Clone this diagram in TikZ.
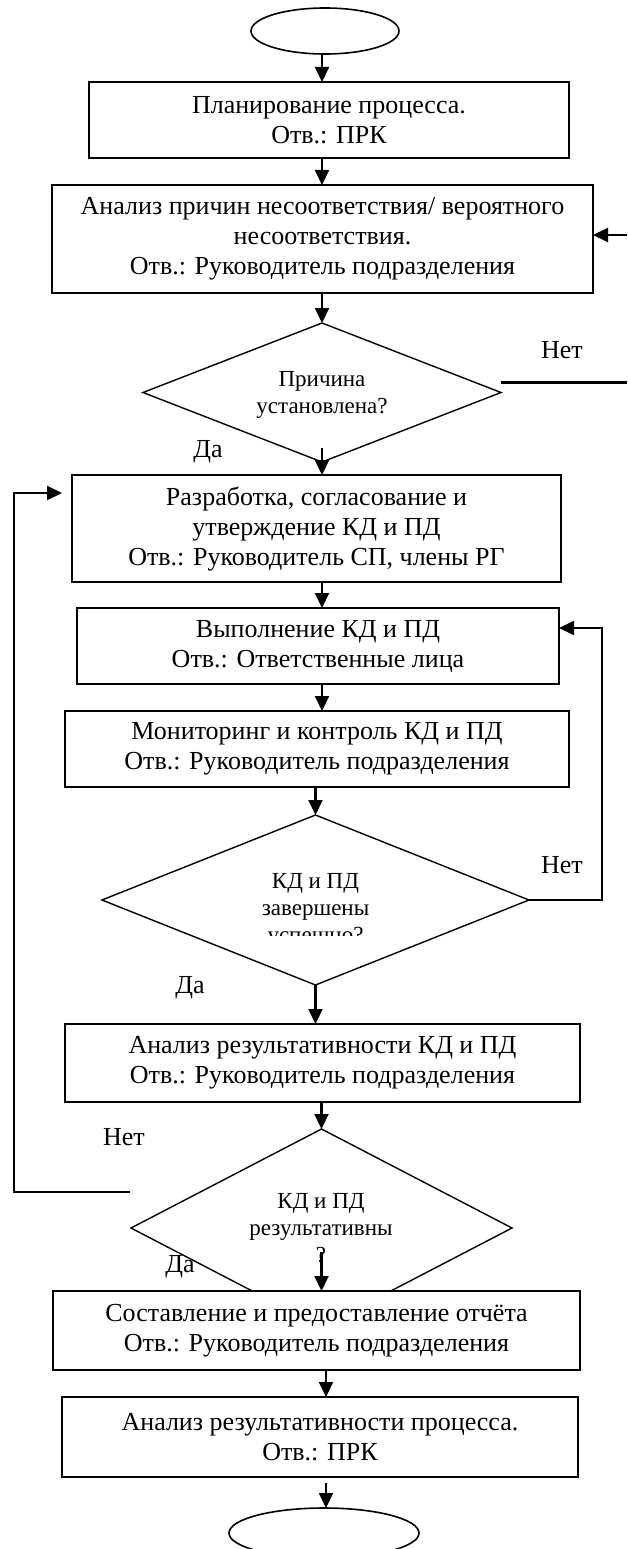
\documentclass[tikz,border=0pt]{standalone}
\usepackage{fontspec}
\setmainfont{Liberation Serif}
\usetikzlibrary{arrows.meta}
\usetikzlibrary{calc}
\usetikzlibrary{shapes.geometric}
\newcommand{\blocktext}{\fontsize{26}{30}\selectfont}
\newcommand{\decisiontext}{\fontsize{23}{27}\selectfont}

\begin{document}
\begin{tikzpicture}[
  x=1pt, y=-1pt, line width=2.1pt,
  > = {Triangle[length=15pt,width=14pt]},
  block/.style = {draw, fill=white, line width=2.2pt, inner sep=0pt, outer sep=0pt, align=center, font=\blocktext},
  decision/.style = {draw, diamond, line width=1.4pt, inner sep=0pt, outer sep=0pt},
  terminal/.style = {draw, ellipse, line width=1.6pt, inner sep=0pt, outer sep=0pt},
  dectext/.style = {align=center, font=\decisiontext},
  lbl/.style = {font=\blocktext}
  ]
	\useasboundingbox (0,0) rectangle (627,1549);

	\coordinate (axis) at (322,0);
	\coordinate (axisb) at (326,0);

	\node[terminal, minimum width=148pt, minimum height=46pt] (start) at (325,31) {};
	\node[block, minimum width=480pt, minimum height=76pt] (plan) at (329,120) {Планирование процесса.\\Отв.: ПРК};
	\node[block, minimum width=541pt, minimum height=108pt] (cause) at (322.5,239) {Анализ причин несоответствия/ вероятного\\несоответствия.\\Отв.: Руководитель подразделения};
	\node[decision, minimum width=358pt, minimum height=139pt] (found) at (322,392.5) {};
	\node[dectext] (foundtxt) at (322,394.5) {Причина\\установлена?};
	\node[block, minimum width=489pt, minimum height=107pt] (develop) at (316.5,528.5) {Разработка, согласование и\\утверждение КД и ПД\\Отв.: Руководитель СП, члены РГ};
	\node[block, minimum width=482pt, minimum height=76pt] (execute) at (318,646) {Выполнение КД и ПД\\Отв.: Ответственные лица};
	\node[block, minimum width=504pt, minimum height=76pt] (monitor) at (317,749) {Мониторинг и контроль КД и ПД\\Отв.: Руководитель подразделения};
	\node[decision, minimum width=427pt, minimum height=170pt] (done) at (315.5,900) {};
	\begin{scope}
		\clip (0,800) rectangle (627,935);
		\node[dectext] (donetxt) at (315.5,910) {КД и ПД\\завершены\\успешно?};
	\end{scope}
	\node[block, minimum width=515pt, minimum height=78pt] (effect) at (322.5,1063) {Анализ результативности КД и ПД\\Отв.: Руководитель подразделения};
	\node[decision, minimum width=381pt, minimum height=198pt] (result) at (321.5,1228) {};
	\node[dectext] (resulttxt) at (321,1228) {КД и ПД\\результативны\\?};
	\node[block, minimum width=527pt, minimum height=79pt] (report) at (316.5,1330.5) {Составление и предоставление отчёта\\Отв.: Руководитель подразделения};
	\node[block, minimum width=516pt, minimum height=80pt] (review) at (320,1437) {Анализ результативности процесса.\\Отв.: ПРК};
	\node[terminal, minimum width=190pt, minimum height=50pt] (stop) at (324,1533) {};

	\node[lbl] (no1) at (562,350) {Нет};
	\node[lbl] (yes1) at (208,452) {Да};
	\node[lbl] (no2) at (562,865) {Нет};
	\node[lbl] (yes2) at (190,988) {Да};
	\node[lbl] (no3) at (124,1137) {Нет};
	\node[lbl] (yes3) at (180,1267) {Да};

	\draw[->] (start.south -| axis) -- (axis |- plan.north);
	\draw[->] (plan.south -| axis) -- (axis |- cause.north);
	\draw[->] (cause.south -| axis) -- (found.north);
	\draw[->] ($(found.south)+(0,-14)$) -- (found.south |- develop.north);
	\draw[->] (develop.south -| axis) -- (axis |- execute.north);
	\draw[->] (execute.south -| axis) -- (axis |- monitor.north);
	\draw[->] (monitor.south -| done.north) -- (done.north);
	\draw[->] (done.south) -- (done.south |- effect.north);
	\draw[->] (effect.south -| result.north) -- (result.north);
	\draw[->] ($(result.center)+(0,24)$) -- (result.center |- report.north);
	\draw[->] (report.south -| axisb) -- (axisb |- review.north);
	\draw[->] ($(review.south -| axisb)+(0,6)$) -- (axisb |- stop.north);

	% Нет-ветви
	\draw ($(found.east)+(0,-10)$) -- ++(126,0);
	\draw[->] (627,235) -- ($(cause.east)+(0,-4)$);
	\draw[->] (done.east) -- ++(73,0) |- ($(execute.east)+(0,-18)$);
	\coordinate (leftend) at (130,1192);
	\coordinate (devin) at ($(develop.west)+(-10,-35.5)$);
	\draw[->] (leftend) -- ++(-116,0) |- (devin);

\end{tikzpicture}
\end{document}
